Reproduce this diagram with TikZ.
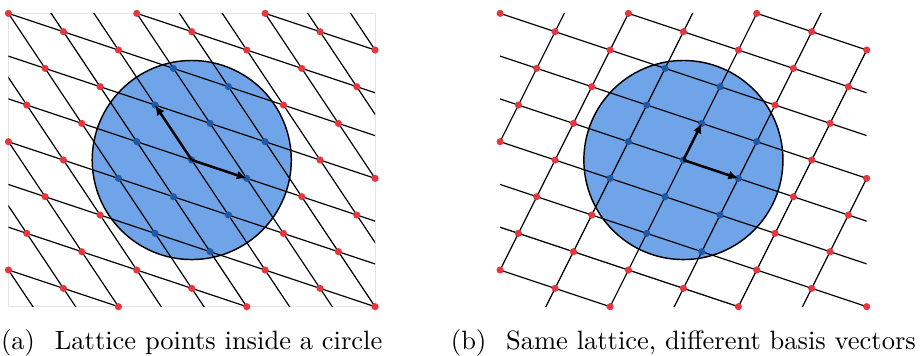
\documentclass[tikz,border=0pt]{standalone}
\usetikzlibrary{arrows.meta}
\definecolor{latfill}{HTML}{70A4E8}
\definecolor{latin}{HTML}{1E5AA5}
\definecolor{latout}{HTML}{E8363F}
\definecolor{latframe}{HTML}{E4E4E4}
\begin{document}
\begin{tikzpicture}[x=6.92pt,y=6.92pt]%
% lattice spanned by (3,-1) and (-2,3), same as (3,-1) and (1,2)
\ifx\latlw\undefined\newdimen\latlw\fi
\global\def\latdraw{\draw[line width=\latlw]}
\global\def\latvec{\draw[line width=0.95pt,-{Latex[length=3.8pt,width=3.4pt]}]}
\global\def\latdots{\foreach \i in {-10,...,10}{\foreach \j in {-8,...,8}{%
 \pgfmathtruncatemacro\latm{mod(2*\i-\j+70,7)}%
 \pgfmathtruncatemacro\latq{\i*\i+\j*\j}%
 \ifnum\latm=0
  \ifnum\latq<30 \fill[latin] (\i,\j) circle (1.35pt);%
  \else \fill[latout] (\i,\j) circle (1.35pt);\fi
 \fi}}}
\latlw=0.45pt
\useasboundingbox (0,0) rectangle (50.35,19.42);
% (a)
\begin{scope}[shift={(10.46,10.69)}]
\draw[latframe,line width=0.4pt] (-10,-8) rectangle (10,8);
\latdraw[line width=0.55pt,fill=latfill] (0,0) circle (5.43);
\begin{scope}
\clip (-10,-8) rectangle (10,8);
\foreach \k in {-4,...,4}{\latdraw ({\k-30},{2*\k+10}) -- ({\k+30},{2*\k-10});}
\foreach \k in {-6,...,6}{\latdraw ({3*\k+20},{-\k-30}) -- ({3*\k-20},{-\k+30});}
\end{scope}
\latdots
\latvec (0,0) -- (3,-1);
\latvec (0,0) -- (-2,3);
\end{scope}
% (b)
\begin{scope}[shift={(37.28,10.69)}]
\latdraw[line width=0.55pt,fill=latfill] (0,0) circle (5.43);
\begin{scope}
\clip (-10,-8) rectangle (10,8);
\foreach \k in {-4,...,4}{\latdraw ({\k-30},{2*\k+10}) -- ({\k+30},{2*\k-10});}
\foreach \k in {-4,...,4}{\latdraw ({3*\k-10},{-\k-20}) -- ({3*\k+10},{-\k+20});}
\end{scope}
\latdots
\latvec (0,0) -- (3,-1);
\latvec (0,0) -- (1,2);
\end{scope}
\node[anchor=base] (capa) at (10.46,0.36) {(a)\hspace{0.75em}Lattice points inside a circle};
\node[anchor=base] (capb) at (37.28,0.36) {(b)\hspace{0.75em}Same lattice, different basis vectors};
\end{tikzpicture}
\end{document}
